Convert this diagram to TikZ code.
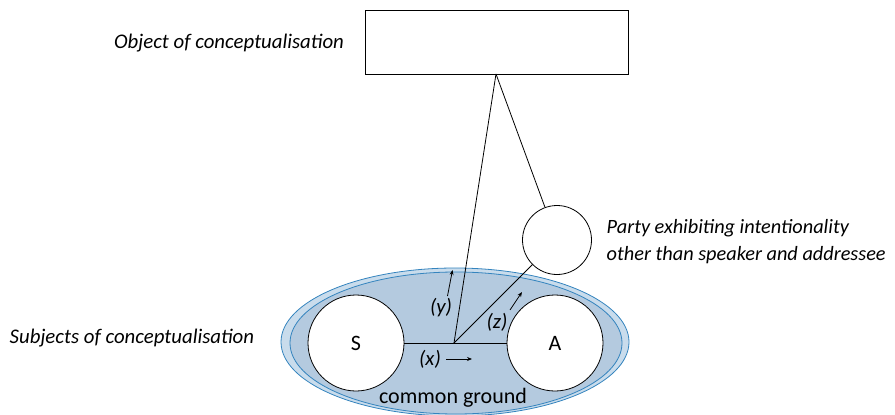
\documentclass[tikz,border=0pt]{standalone}
\usepackage{fontspec}
\setmainfont{Carlito}
\usetikzlibrary{arrows.meta}
\definecolor{cgouter}{RGB}{201,220,236}
\definecolor{cginner}{RGB}{180,202,223}
\definecolor{cgline}{RGB}{52,132,190}
\tikzset{->/.style = {-{Stealth[length=5pt,width=4pt]}}}
\tikzset{person/.style = {circle, draw, fill=white, minimum size=96pt, inner sep=0pt, font=\fontsize{22}{26}\selectfont}}
\tikzset{lbl/.style = {font=\fontsize{20.8}{27}\selectfont\itshape}}
\begin{document}
\begin{tikzpicture}[x=1pt,y=-1pt,line width=0.8pt]
\useasboundingbox (0,0) rectangle (895,415);
\begin{scope}
\clip (0,0) rectangle (895,415);
\draw[cgline, fill=cgouter] (455,342) ellipse [x radius=174, y radius=74];
\draw[cgline, fill=cginner] (456,343) ellipse [x radius=166, y radius=71];
\end{scope}
\node [draw, minimum width=263pt, minimum height=64pt] (object) at (496.5,42) {};
\coordinate (apex) at (496,74);
\node [person] (S) at (356,343) {S};
\node [person] (A) at (555,343) {A};
\node [circle, draw, fill=white, minimum size=69pt, inner sep=0pt] (party) at (557,240) {};
\coordinate (meet) at (454,343);
\draw (S) -- (A);
\draw (meet) -- (apex);
\draw (meet) -- (party);
\draw (apex) -- (party);
\node [lbl] (objlbl) at (229,43) {Object of conceptualisation};
\node [lbl, font=\fontsize{20.3}{27}\selectfont\itshape, align=left, anchor=west] (partylbl) at (603,242) {Party exhibiting intentionality\\other than speaker and addressee};
\node [lbl, anchor=west] (subjlbl) at (6,338) {Subjects of conceptualisation};
\node [lbl] (y) at (441,308) {(y)};
\node [lbl] (z) at (497,322) {(z)};
\node [lbl] (x) at (430,359) {(x)};
\coordinate (ya) at (447.5,296);
\coordinate (yb) at (452.5,270);
\coordinate (za) at (510,310);
\coordinate (zb) at (522,292);
\coordinate (xa) at (446,359);
\coordinate (xb) at (472,359);
\draw [->] (ya) -- (yb);
\draw [->] (za) -- (zb);
\draw [->] (xa) -- (xb);
\node [font=\fontsize{22}{26}\selectfont] (cg) at (453,398) {common ground};
\end{tikzpicture}
\end{document}
